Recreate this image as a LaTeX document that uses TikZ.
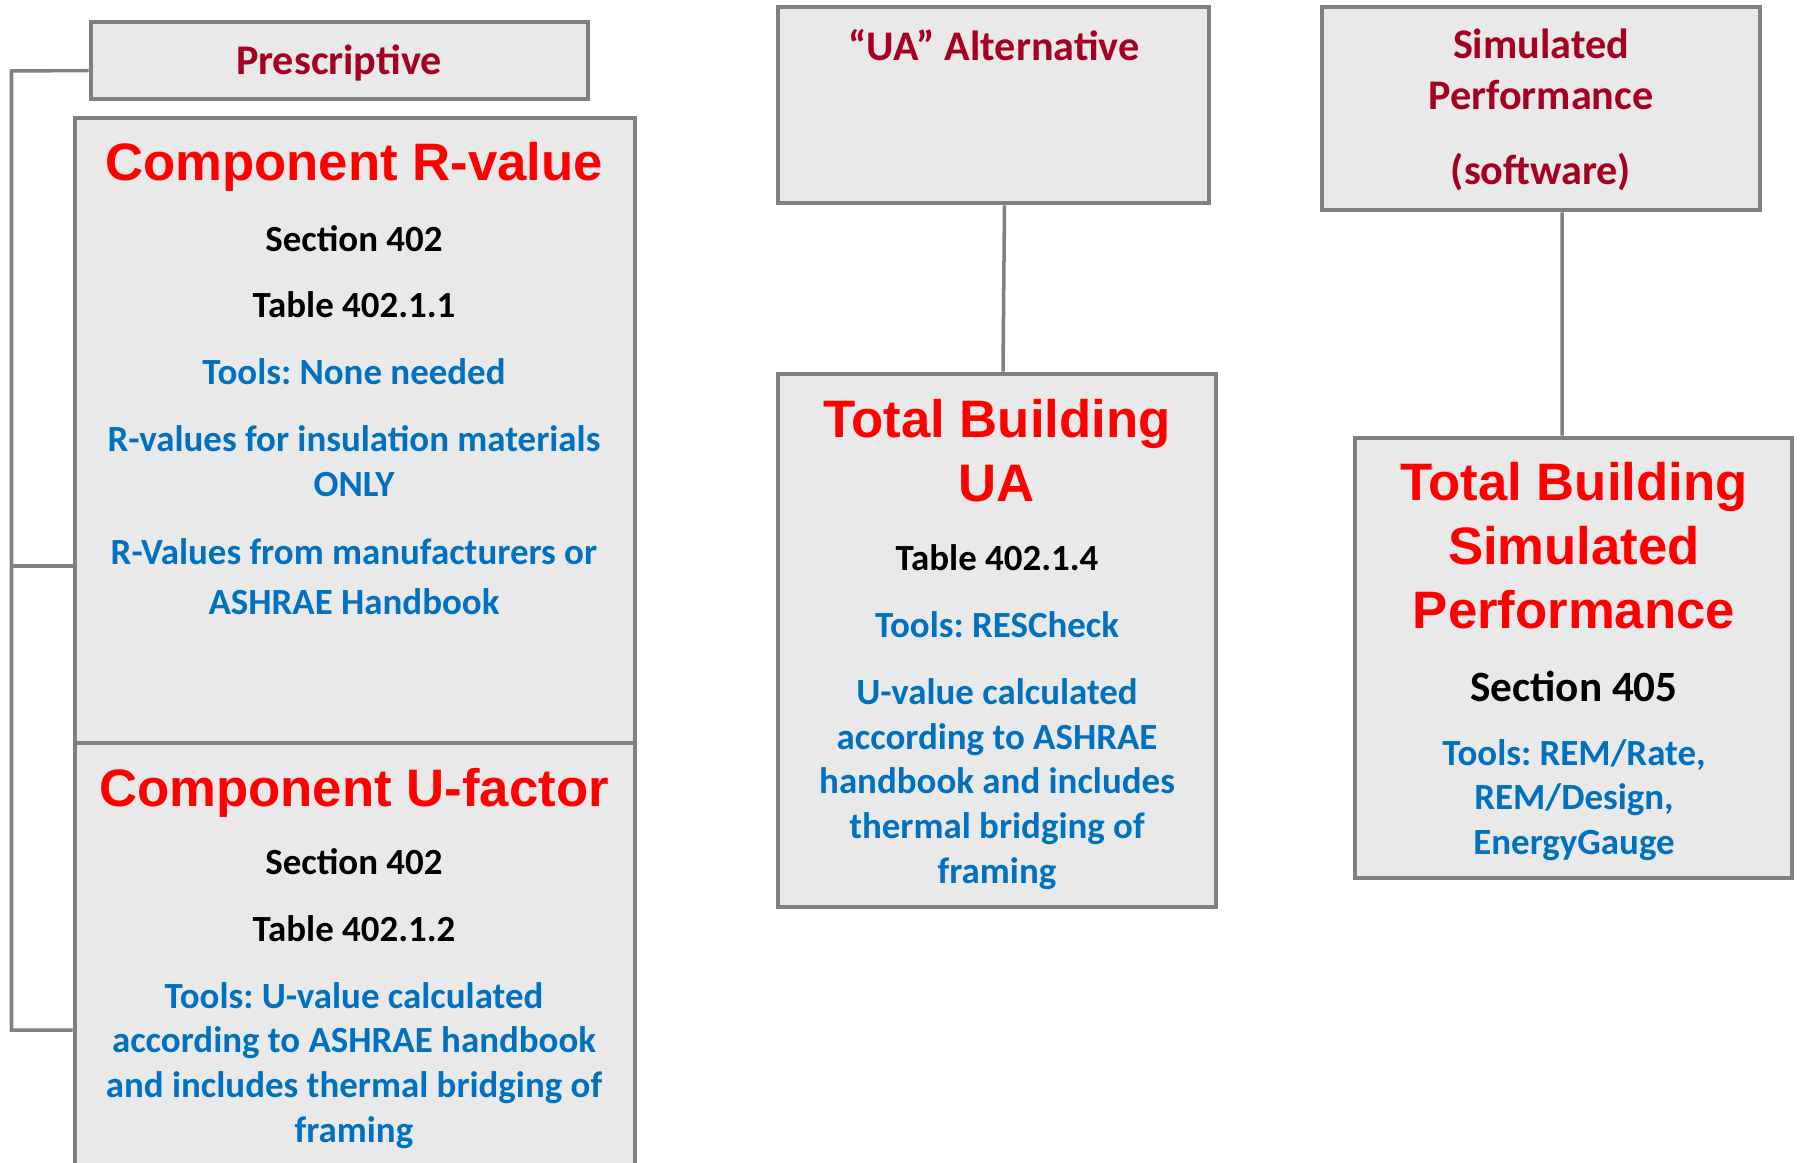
\documentclass[tikz,border=0pt]{standalone}
\usepackage{fontspec}
\setmainfont{Carlito}
\newfontfamily\arialfont{Liberation Sans}
\frenchspacing
\definecolor{boxgray}{HTML}{E9E9E9}
\definecolor{linegray}{HTML}{808080}
\definecolor{hdrred}{HTML}{A50021}
\definecolor{ttlred}{HTML}{FF0000}
\definecolor{toolblue}{HTML}{0070C0}
\begin{document}
\begin{tikzpicture}[
    box/.style={draw=linegray, line width=1.4pt, fill=boxgray, inner sep=0, minimum width=#1},
    wire/.style={draw=linegray, line width=1pt},
    hdr/.style={text=hdrred, align=center, font=\fontsize{12}{14.7}\selectfont\bfseries},
    ttl/.style={text=ttlred, align=center, font=\fontsize{15}{18.2}\selectfont\arialfont\bfseries},
    ref/.style={text=black, align=center, font=\fontsize{10.5}{12.75}\selectfont\bfseries},
    tool/.style={text=toolblue, align=center, font=\fontsize{10.5}{12.75}\selectfont\bfseries}]
      \useasboundingbox (0,0) rectangle (18,-11.63);
      \clip (0,0) rectangle (18,-11.63);
      % BOXES
      \node[box=4.97cm, minimum height=0.77cm] (presc) at (3.395,-0.605) {};
      \node[box=5.60cm, minimum height=6.25cm] (rval) at (3.55,-4.305) {};
      \node[box=5.60cm, minimum height=4.47cm] (ufac) at (3.55,-9.665) {};
      \node[box=4.31cm, minimum height=1.96cm] (uaalt) at (9.935,-1.05) {};
      \node[box=4.38cm, minimum height=5.33cm] (uatot) at (9.97,-6.405) {};
      \node[box=4.38cm, minimum height=2.03cm] (simalt) at (15.41,-1.085) {};
      \node[box=4.37cm, minimum height=4.40cm] (simtot) at (15.735,-6.58) {};
      % WIRES
      \coordinate (railtop) at (0.115,-0.71);
      \coordinate (railmid) at (0.115,-5.66);
      \coordinate (railbot) at (0.115,-10.30);
      \draw[wire] ([yshift=-1mm]presc.west) -- (railtop) -- (railbot) -- (railbot -| ufac.west);
      \draw[wire] (railmid) -- (railmid -| rval.west);
      \draw[wire] ([xshift=1.1mm]uaalt.south) -- ([xshift=0.6mm]uatot.north);
      \draw[wire] ([xshift=2.1mm]simalt.south) -- ([xshift=-1.15mm]simtot.north);
      % LEFT PART
      \node[hdr] (presctxt) at (3.39,-0.625) {Prescriptive};
      \node[ttl] (rvaltitle) at (3.54,-1.665) {Component R-value};
      \node[ref] (rvalsec) at (3.54,-2.39) {Section 402};
      \node[ref] (rvaltab) at (3.54,-3.05) {Table 402.1.1};
      \node[tool] (rvaltool) at (3.54,-3.72) {Tools: None needed};
      \node[tool] (rvalins) at (3.54,-4.615) {R-values for insulation materials\\ONLY};
      \node[tool] (rvalsrc) at (3.54,-5.77) {R-Values from manufacturers or\\[1.5pt]ASHRAE Handbook};
      \node[ttl] (ufactitle) at (3.54,-7.925) {Component U-factor};
      \node[ref] (ufacsec) at (3.54,-8.62) {Section 402};
      \node[ref] (ufactab) at (3.54,-9.29) {Table 402.1.2};
      \node[tool] (ufactool) at (3.54,-10.655) {Tools: U-value calculated\\according to ASHRAE handbook\\and includes thermal bridging of\\framing};
      % MIDDLE PART
      \node[hdr] (uaalttxt) at (9.94,-0.45) {``UA'' Alternative};
      \node[ttl] (uatitle) at (9.97,-4.505) {Total Building\\UA};
      \node[ref] (uatab) at (9.97,-5.58) {Table 402.1.4};
      \node[tool] (uatool) at (9.97,-6.25) {Tools: RESCheck};
      \node[tool] (uacalc) at (9.97,-7.84) {U-value calculated\\according to ASHRAE\\handbook and includes\\thermal bridging of\\framing};
      % RIGHT PART
      \node[hdr] (simtxt) at (15.41,-0.695) {Simulated\\Performance};
      \node[hdr] (simsoft) at (15.41,-1.72) {(software)};
      \node[ttl] (simtitle) at (15.74,-5.46) {Total Building\\Simulated\\Performance};
      \node[ref, font=\fontsize{12.3}{14.7}\selectfont\bfseries] (simsec) at (15.74,-6.86) {Section 405};
      \node[tool] (simtool) at (15.74,-8.0) {Tools: REM/Rate,\\REM/Design,\\EnergyGauge};
    \end{tikzpicture}
\end{document}
